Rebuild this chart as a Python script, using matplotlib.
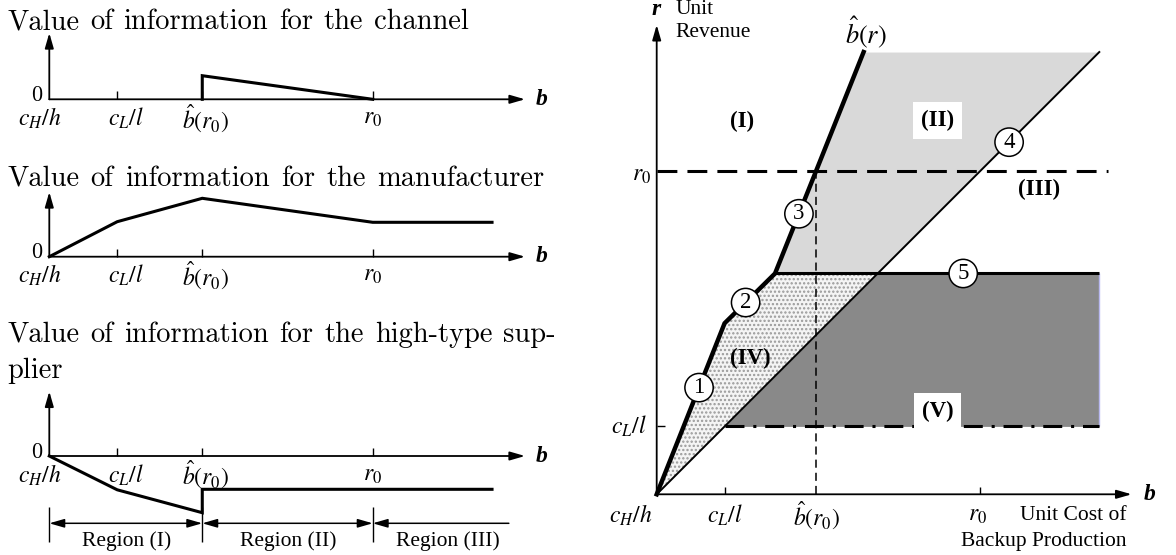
import matplotlib
matplotlib.use("Agg")
import matplotlib.pyplot as plt
import numpy as np

plt.rcParams["font.family"] = "Liberation Serif"
plt.rcParams["mathtext.fontset"] = "stix"
plt.rcParams["hatch.linewidth"] = 1.1

W, H = 1176, 555

# --- left panels: b axis, r0 = 10 ---
b_ticks = [0.0, 2.1, 4.73, 10.0]
b_tick_labels = [r"$c_H/h$", r"$c_L/l$", r"$\hat{b}(r_0)$", r"$r_0$"]

channel_b = [4.73, 4.73, 10.0]
channel_v = [0.0, 2.36, 0.0]

manuf_b = [0.0, 2.1, 4.73, 10.0, 13.69]
manuf_v = [0.0, 3.5, 5.84, 3.44, 3.44]

high_b = [0.0, 2.1, 4.73, 4.73, 13.69]
high_v = [0.0, -3.38, -5.67, -3.33, -3.33]

region_edges = [0.0, 4.73, 10.0, 14.21]
region_names = ["Region (I)", "Region (II)", "Region (III)"]

titles = ["Value of information for the channel",
          "Value of information for the manufacturer",
          "Value of information for the high-type sup-"]

# --- right panel: r0 = 10 on both axes ---
cl_l = 2.1
bhat_r0 = 4.93
r0 = 10.0
bhat_b = [0.0, 2.1, 3.66, 4.93, 6.4]
bhat_r = [0.0, 5.29, 6.83, 10.0, 13.68]
diag_b = [0.0, 13.69]
diag_r = [0.0, 13.68]
r_line5 = 6.83
b_right = 13.69
circle_b = [1.31, 2.75, 4.40, 10.9, 9.48]   # where the numbered circles sit

fig = plt.figure(figsize=(W / 100, H / 100), dpi=100)


def panel(x0, y0, sx, sy, xlim, ylim):
    # axes placed so that data (0,0) lands on pixel (x0, y0)
    left = x0 + xlim[0] * sx
    right = x0 + xlim[1] * sx
    top = y0 - ylim[1] * sy
    bottom = y0 - ylim[0] * sy
    ax = fig.add_axes([left / W, 1 - bottom / H, (right - left) / W, (bottom - top) / H])
    ax.set_xlim(xlim)
    ax.set_ylim(ylim)
    ax.axis("off")
    return ax


def arrow(ax, start, end, style="-|>", lw=1.3):
    ax.annotate("", xy=end, xytext=start, annotation_clip=False,
                arrowprops=dict(arrowstyle=f"{style},head_length=0.9,head_width=0.26",
                                mutation_scale=10, lw=lw, color="k",
                                shrinkA=0, shrinkB=0))


def justified(text, x0, x1, y, size):
    words = text.split()
    objs = [fig.text(0, 0, w, fontsize=size, family="cmr10", va="baseline") for w in words]
    rend = fig.canvas.get_renderer()
    widths = [t.get_window_extent(rend).width for t in objs]
    gap = (x1 - x0 - sum(widths)) / (len(words) - 1)
    x = x0
    for t, w in zip(objs, widths):
        t.set_position((x / W, 1 - y / H))
        x += w + gap


def left_base(ax, ytop):
    arrow(ax, (0, 0), (14.71, 0))
    arrow(ax, (0, 0), (0, ytop))
    ax.vlines(b_ticks[1:], 0, 0.8, color="k", lw=1.0)
    offs = [-10, 9, 3, 0]
    for b, lab, dx in zip(b_ticks, b_tick_labels, offs):
        ax.annotate(lab, (b, 0), xytext=(dx, -19), textcoords="offset pixels",
                    ha="center", va="center", fontsize=17)
    ax.annotate("0", (0, 0), xytext=(-7, 4), textcoords="offset pixels",
                ha="right", va="center", fontsize=16, family="cmr10")
    ax.text(15.23, 0, "b", ha="center", va="center", fontsize=17,
            fontweight="bold", fontstyle="italic")


# titles
TS = 20.5
justified(titles[0], 7, 469, 29.3, TS)
justified(titles[1], 7, 544, 185.7, TS)
justified(titles[2], 7, 556, 341.7, TS)
fig.text(7 / W, 1 - 378 / H, "plier", fontsize=TS, family="cmr10", va="baseline")

# panel 1: channel
ax1 = panel(49.3, 99.3, 32.34, 10, (-1.5, 15.8), (-3.0, 7.0))
left_base(ax1, 6.63)
ax1.plot(channel_b, channel_v, color="k", lw=2.2, solid_joinstyle="miter")

# panel 2: manufacturer
ax2 = panel(49.3, 256.7, 32.34, 10, (-1.5, 15.8), (-3.0, 7.0))
left_base(ax2, 6.47)
ax2.plot(manuf_b, manuf_v, color="k", lw=2.2, solid_joinstyle="miter")

# panel 3: high-type supplier
ax3 = panel(49.3, 456.0, 32.34, 10, (-1.5, 15.8), (-9.8, 7.0))
left_base(ax3, 6.46)
ax3.plot(high_b, high_v, color="k", lw=2.2, solid_joinstyle="miter")
ax3.vlines(region_edges[:3], -5.07, -8.57, color="k", lw=1.0)
arrow(ax3, (region_edges[0], -6.73), (region_edges[1], -6.73), "<|-|>", 1.1)
arrow(ax3, (region_edges[1], -6.73), (region_edges[2], -6.73), "<|-|>", 1.1)
arrow(ax3, (region_edges[2], -6.73), (region_edges[3], -6.73), "<|-", 1.1)
for name, xc in zip(region_names, [2.38, 7.38, 12.33]):
    ax3.text(xc, -8.47, name, ha="center", va="center", fontsize=15.5)

# right panel
axr = panel(656.7, 494.3, 32.33, 32.33, (-2.0, 15.9), (-1.85, 15.25))
yy = np.unique(np.concatenate([np.linspace(0, bhat_r[-1], 400), bhat_r, [r_line5, cl_l]]))
bx = np.interp(yy, bhat_r, bhat_b)
dx = np.interp(yy, diag_r, diag_b)

m = yy >= r_line5
axr.fill_betweenx(yy[m], bx[m], dx[m], color="#d9d9d9", lw=0, zorder=1)
m = yy <= r_line5
axr.fill_betweenx(yy[m], bx[m], dx[m], facecolor="#f4f4f4", hatch="....",
                  edgecolor="#999999", lw=0, zorder=1)
m = (yy >= cl_l) & (yy <= r_line5)
axr.fill_betweenx(yy[m], dx[m], b_right, color="#898989", lw=0, zorder=1)
axr.vlines(b_right, cl_l, r_line5, color="#b8b8f0", lw=1.0, zorder=2)

axr.plot(diag_b, diag_r, color="k", lw=1.4, zorder=3)
axr.hlines(r_line5, bhat_b[2], b_right, color="k", lw=2.2, zorder=3)
axr.plot(bhat_b, bhat_r, color="k", lw=3.2, solid_joinstyle="miter", zorder=4)
axr.plot([0, 13.97], [r0, r0], color="k", lw=2.2, dashes=(6.5, 3.3), zorder=3)
axr.plot([bhat_r0, bhat_r0], [0, r0], color="k", lw=1.1, dashes=(5.3, 3.3), zorder=3)
axr.plot([cl_l, b_right], [cl_l, cl_l], color="k", lw=2.2,
         dashes=(6.2, 2.9, 1.0, 2.9), zorder=3)

arrow(axr, (0, 0), (14.69, 0))
arrow(axr, (0, 0), (0, 14.52))
axr.vlines([cl_l, r0], 0, 0.24, color="k", lw=1.0)
axr.hlines(cl_l, 0, 0.26, color="k", lw=1.0)

for lab, b, dxp in zip(b_tick_labels, [0.0, cl_l, bhat_r0, r0], [-26, 0, 0, -2]):
    axr.annotate(lab, (b, 0), xytext=(dxp, -21.4), textcoords="offset pixels",
                 ha="center", va="center", fontsize=17)
axr.annotate(r"$r_0$", (0, r0), xytext=(-6, -4), textcoords="offset pixels",
             ha="right", va="center", fontsize=17)
axr.annotate(r"$c_L/l$", (0, cl_l), xytext=(-10, 0), textcoords="offset pixels",
             ha="right", va="center", fontsize=17)

axr.text(15.24, 0, "b", ha="center", va="center", fontsize=17,
         fontweight="bold", fontstyle="italic")
axr.text(-0.03, 14.98, "r", ha="center", va="center", fontsize=17,
         fontweight="bold", fontstyle="italic")
axr.text(0.57, 15.0, "Unit", ha="left", va="center", fontsize=15.5)
axr.text(0.57, 14.28, "Revenue", ha="left", va="center", fontsize=15.5)
axr.text(6.47, 14.27, r"$\hat{b}(r)$", ha="center", va="center", fontsize=19)
axr.text(14.54, -0.66, "Unit Cost of", ha="right", va="center", fontsize=15.5)
axr.text(14.54, -1.47, "Backup Production", ha="right", va="center", fontsize=15.5)

box = dict(boxstyle="square,pad=0.35", fc="white", ec="none")
lab_kw = dict(ha="center", va="center", fontsize=16.5, fontweight="bold", zorder=5)
axr.text(2.63, 11.52, "(I)", **lab_kw)
axr.text(8.69, 11.55, "(II)", bbox=box, **lab_kw)
axr.text(11.83, 9.44, "(III)", **lab_kw)
axr.text(2.89, 4.21, "(IV)", **lab_kw)
axr.text(8.69, 2.55, "(V)", bbox=box, **lab_kw)

# numbered circles sit on the boundary lines
circle_r = [np.interp(circle_b[0], bhat_b, bhat_r),
            np.interp(circle_b[1], bhat_b, bhat_r),
            np.interp(circle_b[2], bhat_b, bhat_r),
            np.interp(circle_b[3], diag_b, diag_r),
            r_line5]
for i, (cb, cr) in enumerate(zip(circle_b, circle_r)):
    axr.text(cb, cr, str(i + 1), ha="center", va="center", fontsize=16.5, zorder=6,
             bbox=dict(boxstyle="circle,pad=0.16", fc="white", ec="k", lw=1.1))

fig.savefig("out.png", dpi=100)
